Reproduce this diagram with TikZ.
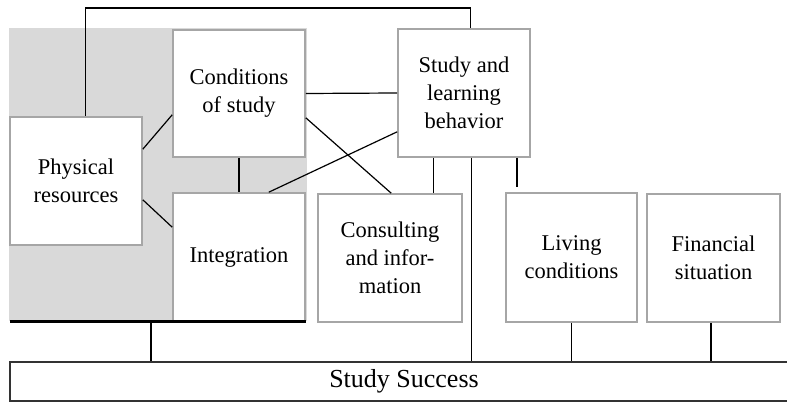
\documentclass[tikz,border=0pt]{standalone}
\usepackage{fontspec}
\setmainfont{Liberation Serif}
\usetikzlibrary{calc}
\definecolor{boxgray}{HTML}{A6A6A6}
\definecolor{areagray}{HTML}{D9D9D9}
\definecolor{succline}{HTML}{333333}
\tikzset{
  factor/.style={draw=boxgray, line width=1.6pt, fill=white, inner sep=0pt, align=center,
    font=\fontsize{22.5}{28}\selectfont, text=black},
  link/.style={draw=black, line width=1.2pt},
  bus/.style={draw=black, line width=3pt},
}
\begin{document}
\begin{tikzpicture}[x=1pt, y=-1pt]
\useasboundingbox (0,0) rectangle (787,403);
\clip (0,0) rectangle (787,403);
% grey area
\fill[areagray] (9,28) rectangle (307,321);
% nodes
\node[factor, minimum width=132pt, minimum height=128pt] (phys) at (76,181) {Physical\\resources};
\node[factor, minimum width=132pt, minimum height=127pt] (cond) at (239,93.5) {Conditions\\of study};
\node[factor, minimum width=132pt, minimum height=128pt] (study) at (464,93) {Study and\\learning\\behavior};
\node[factor, minimum width=132pt, minimum height=128pt] (integ) at (239,257) {Integration};
\node[factor, minimum width=144pt, minimum height=128pt] (cons) at (390,258) {Consulting\\and infor-\\mation};
\node[factor, minimum width=131pt, minimum height=129pt] (living) at (571.5,257.5) {Living\\conditions};
\node[factor, minimum width=133pt, minimum height=128pt] (fin) at (713.5,258) {Financial\\situation};
\node[draw=succline, line width=1.6pt, fill=white, inner sep=0pt, minimum width=788pt, minimum height=39pt,
  font=\fontsize{26}{30}\selectfont, text=black] (succ) at (404,381.5) {Study Success};
% coordinates
\coordinate (topbar) at (0,8);
\coordinate (busL) at (10,321);
\coordinate (busR) at (306,321);
\coordinate (busT) at (151,321);
\coordinate (lcend) at (517,187);
% bus line
\draw[bus] (busL) -- (busR);
\draw[link] (busT) -- (busT |- succ.north);
% top connector
\draw[link] ([xshift=76pt]phys.north west) -- ([xshift=76pt]phys.north west |- topbar) -| ([xshift=73pt]study.north west);
% links
\draw[link] ([yshift=-33pt]phys.north east) -- ([yshift=43pt]cond.south west);
\draw[link] ([yshift=46pt]phys.south east) -- ([yshift=-35pt]integ.north west);
\draw[link] (cond.south) -- (integ.north);
\draw[link] (cond.east) -- (study.west);
\draw[link] ([yshift=40pt]cond.south east) -- ([xshift=74pt]cons.north west);
\draw[link] ([xshift=-37pt]integ.north east) -- ([yshift=26pt]study.south west);
\draw[link] ([xshift=36pt]study.south west) -- ([xshift=36pt]study.south west |- cons.north);
\draw[link] ([xshift=74pt]study.south west) -- ([xshift=74pt]study.south west |- succ.north);
\draw[link] (lcend |- study.south) -- (lcend);
\draw[link] (living.south) -- (living.south |- succ.north);
\draw[link] ([xshift=-2.5pt]fin.south) -- ([xshift=-2.5pt]fin.south |- succ.north);
\end{tikzpicture}
\end{document}
